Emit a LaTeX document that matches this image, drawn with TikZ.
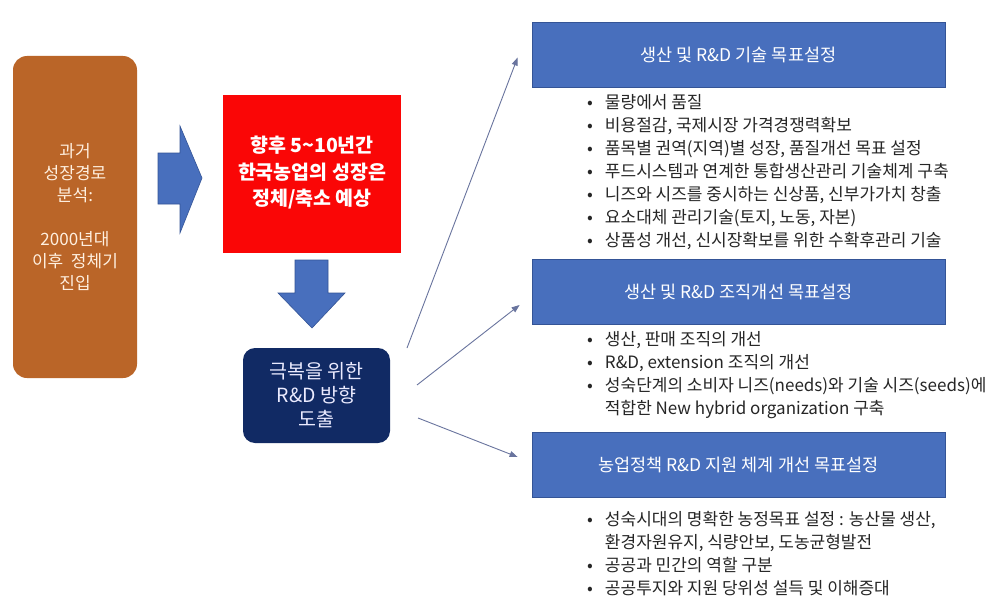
\documentclass[tikz,border=0pt]{standalone}
\usepackage{fontspec}
\setmainfont{Noto Sans CJK KR}
\usetikzlibrary{arrows.meta}
\definecolor{pastbrown}{RGB}{186,101,40}
\definecolor{alertred}{RGB}{250,6,6}
\definecolor{deepnavy}{RGB}{17,42,100}
\definecolor{goalblue}{RGB}{72,111,189}
\definecolor{goalrim}{RGB}{52,84,150}
\definecolor{linkgray}{RGB}{105,116,158}
\definecolor{bodytext}{RGB}{38,38,38}
\def\blist#1{\fontsize{17}{23}\selectfont\begin{tabular}{@{}c@{\hspace{12pt}}l@{}}#1\end{tabular}}
\tikzset{
  goalbox/.style={draw=goalrim, line width=0.8pt, fill=goalblue, text=white,
    minimum width=413pt, minimum height=65pt, inner sep=0pt,
    font=\fontsize{17.5}{20}\selectfont},
  bulletlist/.style={anchor=north west, inner sep=0pt, text=bodytext},
  fatarrow/.style={fill=goalblue, draw=goalrim, line width=0.6pt},
  link/.style={draw=linkgray, line width=0.9pt, -{Triangle[length=8pt,width=6pt]}}
}
\begin{document}
\begin{tikzpicture}[x=1pt, y=-1pt]
			%%%%% START %%%%%
			\useasboundingbox[fill=white] (0,0) rectangle (994,610);

			\node[fill=pastbrown, rounded corners=14pt, minimum width=124pt, minimum height=322pt,
			  text=white!88!orange, align=center, font=\fontsize{17}{22}\selectfont]
			  (past) at (75,217) {과거\\성장경로\\분석:\\~\\2000년대\\이후~~정체기\\진입};

			\node[fill=alertred, minimum width=178pt, minimum height=158pt, text=white, align=center,
			  font=\bfseries\fontsize{19.5}{26.5}\selectfont]
			  (outlook) at (312,174) {\raisebox{4pt}{\begin{tabular}{c}향후 5\textasciitilde10년간\\한국농업의 성장은\\정체/축소 예상\end{tabular}}};

			\node[fill=deepnavy, rounded corners=12pt, minimum width=147pt, minimum height=95pt,
			  text=white!92!blue, align=center, font=\fontsize{19.5}{24}\selectfont]
			  (rnd) at (316.5,395.5) {극복을 위한\\R\&D 방향\\도출};

			% block arrows
			\draw[fatarrow] (158,153) -- (180,153) -- (180,126) -- (202,178) -- (180,233) -- (180,204) -- (158,204) -- cycle;
			\draw[fatarrow] (295,260) -- (328,260) -- (328,293) -- (345,293) -- (312,328) -- (278,293) -- (295,293) -- cycle;

			% goal headers
			\node[goalbox] (tech) at (738.5,54.5) {생산 및 R\&D 기술 목표설정};
			\node[goalbox] (org) at (738.5,292) {생산 및 R\&D 조직개선 목표설정};
			\node[goalbox] (policy) at (738.5,465) {농업정책 R\&D 지원 체계 개선 목표설정};

			\coordinate (s1) at (407,348);
			\coordinate (s2) at (417,385);
			\coordinate (s3) at (418,418);
			\draw[link] (s1) -- ([xshift=-14pt, yshift=-3pt]tech.west);
			\draw[link] (s2) -- ([xshift=-12pt, yshift=-13pt]org.west);
			\draw[link] (s3) -- ([xshift=-14pt, yshift=8pt]policy.west);

			% bullet lists
			\node[bulletlist] (techlist) at (587,92.5) {\blist{
			  • & 물량에서 품질\\
			  • & 비용절감, 국제시장 가격경쟁력확보\\
			  • & 품목별 권역(지역)별 성장, 품질개선 목표 설정\\
			  • & 푸드시스템과 연계한 통합생산관리 기술체계 구축\\
			  • & 니즈와 시즈를 중시하는 신상품, 신부가가치 창출\\
			  • & 요소대체 관리기술(토지, 노동, 자본)\\
			  • & 상품성 개선, 신시장확보를 위한 수확후관리 기술}};

			\node[bulletlist] (orglist) at (587,329.5) {\blist{
			  • & 생산, 판매 조직의 개선\\
			  • & R\&D, extension 조직의 개선\\
			  • & 성숙단계의 소비자 니즈(needs)와 기술 시즈(seeds)에\\
			    & 적합한 New hybrid organization 구축}};

			\node[bulletlist] (policylist) at (587,509.5) {\blist{
			  • & 성숙시대의 명확한 농정목표 설정 : 농산물 생산,\\
			    & 환경자원유지, 식량안보, 도농균형발전\\
			  • & 공공과 민간의 역할 구분\\
			  • & 공공투지와 지원 당위성 설득 및 이해증대}};
			%%%%% END %%%%%
\end{tikzpicture}
\end{document}
